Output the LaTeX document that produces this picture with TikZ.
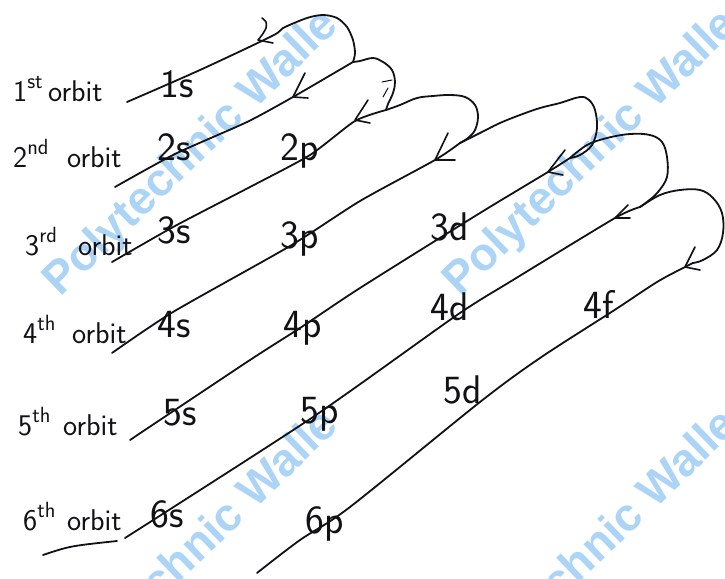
\documentclass[tikz,border=0pt]{standalone}
\usepackage{fontspec}
\newfontfamily\wmfont{Liberation Sans}
\definecolor{inkc}{RGB}{18,18,22}
\definecolor{wmblue}{RGB}{172,212,247}
% ordinal + "orbit", with the ordinal kept in a box of fixed width
\newcommand\ordlabel[3]{\makebox[#1][l]{#2\raisebox{0.42em}{\fontsize{22}{22}\selectfont #3}}orbit}

\begin{document}
\begin{tikzpicture}[x=1pt,y=-1pt,
  ink/.style={line width=1.8pt, line cap=round, line join=round, draw=inkc},
  tipv/.style={ink, line width=1.6pt},
  lbl/.style={inner sep=0pt, anchor=base west, text=inkc,
              font=\sffamily\fontsize{40}{40}\selectfont},
  orb/.style={inner sep=0pt, anchor=base west, text=inkc,
              font=\sffamily\fontsize{30}{30}\selectfont},
  wm/.style={inner sep=0pt, anchor=base west, rotate=44, text=wmblue,
             font=\wmfont\bfseries\fontsize{46}{46}\selectfont}]

\useasboundingbox (0,0) rectangle (725,578);
\fill[white] (0,0) rectangle (725,578);
\clip (0,0) rectangle (725,578);

% background marks
\node[wm] (wmA) at (60,298)  {Polytechnic Walle};
\node[wm] (wmB) at (460,298) {Polytechnic Walle};
\node[wm] (wmC) at (60,698)  {Polytechnic Walle};
\node[wm] (wmD) at (460,698) {Polytechnic Walle};

% end points of the diagonals and the turning points between loops
\coordinate (s1) at (127,102);
\coordinate (t1) at (272,36);
\coordinate (J1) at (353,62);
\coordinate (J2) at (386,110);
\coordinate (J3) at (460,143);
\coordinate (J4) at (570,158);
\coordinate (J5) at (640,207);
\coordinate (J6) at (693,263);
\coordinate (e2) at (115,187);
\coordinate (e3) at (112,262);
\coordinate (e4) at (112,353);
\coordinate (e5) at (130,440);
\coordinate (e6) at (125,538);
\coordinate (e7) at (257,573);

% first diagonal and first loop
\draw[ink] plot[smooth, tension=0.5] coordinates
  {(s1) (200,70) (t1) (283,28) (307,18) (323,15) (337,18) (347,27) (353,40) (355,53) (J1)};
% diagonals running down to the left
\draw[ink] plot[smooth, tension=0.4] coordinates
  {(J1) (293,97) (247,122) (175,154) (e2)};
\draw[ink] plot[smooth, tension=0.4] coordinates
  {(J2) (355,121) (310,155) (250,187) (175,226) (e3)};
\draw[ink] plot[smooth, tension=0.4] coordinates
  {(J3) (435,160) (360,201) (290,246) (173,312) (e4)};
\draw[ink] plot[smooth, tension=0.4] coordinates
  {(J4) (548,172) (480,213) (360,288) (300,328) (250,360) (e5)};
\draw[ink] plot[smooth, tension=0.4] coordinates
  {(J5) (615,218) (513,280) (457,315) (313,417) (e6)};
\draw[ink] plot[smooth, tension=0.5] coordinates
  {(J6) (685,267) (657,282) (613,311) (540,358) (480,402) (350,507) (300,540) (e7)};

% loops joining one diagonal to the next
\draw[ink] plot[smooth, tension=0.6] coordinates
  {(J1) (360,61) (373,58) (383,62) (392,70) (395,82) (393,93) (388,104) (J2)};
\draw[ink] plot[smooth, tension=0.6] coordinates
  {(J2) (400,105) (417,98) (433,96) (450,95) (465,97) (475,105) (478,117) (475,130) (468,138) (J3)};
\draw[ink] plot[smooth, tension=0.6] coordinates
  {(J3) (480,133) (500,123) (520,115) (540,108) (560,103) (580,97) (589,100) (595,110) (597,128) (592,145) (580,155) (J4)};
\draw[ink] plot[smooth, tension=0.6] coordinates
  {(J4) (587,145) (607,138) (630,134) (650,135) (662,142) (667,157) (667,177) (658,192) (647,202) (J5)};
\draw[ink] plot[smooth, tension=0.6] coordinates
  {(J5) (660,195) (680,190) (700,190) (713,198) (722,213) (723,233) (717,250) (703,260) (J6)};

% arrow heads
\draw[tipv] plot[smooth, tension=0.5] coordinates {(262,18) (266,22) (266,28) (262,35) (258,40)} -- (273,43);
\draw[tipv] (305,73) -- (293,97) -- (308,98);
\draw[tipv] (368,100) -- (355,120) -- (370,123);
\draw[tipv] (448,133) -- (435,160) -- (455,160);
\draw[tipv] (565,150) -- (548,172) -- (563,175);
\draw[tipv] (628,205) -- (615,218) -- (630,218);
\draw[tipv] (695,247) -- (685,267) -- (700,270);
\draw[ink, line width=1pt] (382,82) -- (392,80);
\draw[ink, line width=1pt] (383,97) -- (388,88);

% orbit names
\node[orb] (o1) at (13,101)  {\ordlabel{35pt}{1}{st}};
\node[orb] (o2) at (13,167)  {\ordlabel{54pt}{2}{nd}};
\node[orb] (o3) at (25,255)  {\ordlabel{53pt}{3}{rd}};
\node[orb] (o4) at (23,343)  {\ordlabel{49pt}{4}{th}};
\node[orb] (o5) at (18,435)  {\ordlabel{45pt}{5}{th}};
\node[orb] (o6) at (23,530)  {\ordlabel{44pt}{6}{th}};
\coordinate (u1) at (43,555);
\coordinate (u2) at (117,541);
\draw[ink] (u1) .. controls (70,546) .. (u2);

% sub-shell names
\node[lbl] (n1s) at (160,97)  {1s};
\node[lbl] (n2s) at (157,160) {2s};
\node[lbl] (n2p) at (280,160) {2p};
\node[lbl] (n3s) at (157,243) {3s};
\node[lbl] (n3p) at (280,248) {3p};
\node[lbl] (n3d) at (430,240) {3d};
\node[lbl] (n4s) at (157,337) {4s};
\node[lbl] (n4p) at (283,337) {4p};
\node[lbl] (n4d) at (430,320) {4d};
\node[lbl] (n4f) at (583,318) {4f};
\node[lbl] (n5s) at (163,425) {5s};
\node[lbl] (n5p) at (300,423) {5p};
\node[lbl] (n5d) at (443,403) {5d};
\node[lbl] (n6s) at (150,527) {6s};
\node[lbl] (n6p) at (305,533) {6p};
\end{tikzpicture}
\end{document}
